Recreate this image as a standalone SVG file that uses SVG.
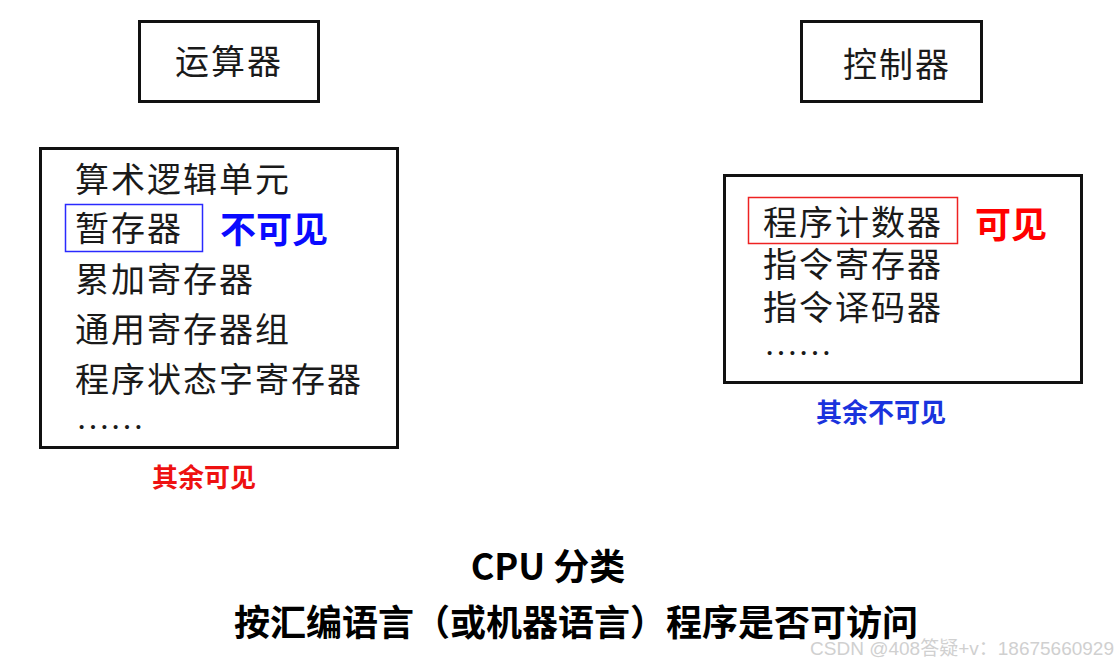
<svg xmlns="http://www.w3.org/2000/svg" width="1118" height="664" viewBox="0 0 1118 664">
<style>
.box{fill:#fff;stroke:#111;stroke-width:3}
.t{font-family:"Noto Sans CJK SC","Noto Sans CJK JP",sans-serif;font-size:34px;letter-spacing:2px;fill:#1a1a1a}
.b{font-family:"Noto Sans CJK SC","Noto Sans CJK JP",sans-serif;font-weight:bold;fill:#000}
.dots{font-family:"Liberation Serif",serif;font-size:34px;fill:#1a1a1a}
</style>
<rect width="1118" height="664" fill="#fff"/>
<g id="alu-title">
<rect class="box" x="139.5" y="21.5" width="179" height="80"/>
<text class="t" x="175" y="74">运算器</text>
</g>
<g id="cu-title">
<rect class="box" x="801.5" y="21.5" width="180" height="80"/>
<text class="t" x="843" y="77">控制器</text>
</g>
<g id="alu-list">
<rect class="box" x="40.5" y="148.5" width="357" height="299"/>
<text class="t" x="75" y="192">算术逻辑单元</text>
<rect x="65.5" y="204.5" width="137" height="47" fill="none" stroke="#2a2aff" stroke-width="1.5"/>
<text class="t" x="75" y="241">暂存器</text>
<text class="b" x="220" y="243" font-size="36" style="fill:#0a0aff">不可见</text>
<text class="t" x="75" y="292">累加寄存器</text>
<text class="t" x="75" y="342">通用寄存器组</text>
<text class="t" x="75" y="392">程序状态字寄存器</text>
<text class="dots" x="76" y="429">……</text>
</g>
<g id="alu-note">
<text class="b" x="152" y="487" font-size="26" style="fill:#ee1111">其余可见</text>
</g>
<g id="cu-list">
<rect class="box" x="724.5" y="175.5" width="357" height="207"/>
<rect x="748.5" y="197.5" width="209" height="46" fill="none" stroke="#ee2222" stroke-width="1.5"/>
<text class="t" x="763" y="235">程序计数器</text>
<text class="b" x="975" y="238" font-size="36" style="fill:#ff0000">可见</text>
<text class="t" x="763" y="277">指令寄存器</text>
<text class="t" x="763" y="320">指令译码器</text>
<text class="dots" x="764" y="355">……</text>
</g>
<g id="cu-note">
<text class="b" x="816" y="422" font-size="26" style="fill:#1a33dd">其余不可见</text>
</g>
<g id="caption">
<text class="b" x="548" y="580" font-size="36" text-anchor="middle">CPU 分类</text>
<text class="b" x="576" y="636" font-size="36" text-anchor="middle">按汇编语言（或机器语言）程序是否可访问</text>
</g>
<g id="watermark">
<text x="1114" y="655" font-family="Liberation Sans, Noto Sans CJK SC, sans-serif" font-size="19" fill="#d0d0d0" text-anchor="end">CSDN @408答疑+v：18675660929</text>
</g>
<g id="connectors"></g>
</svg>
